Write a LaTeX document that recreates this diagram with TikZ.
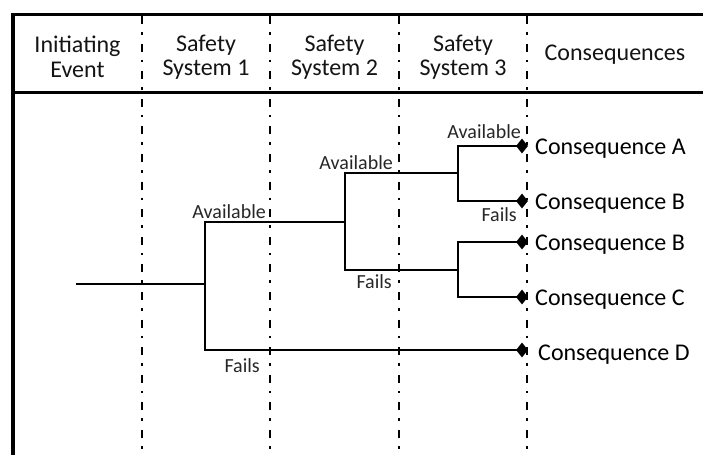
\documentclass[tikz,border=0pt]{standalone}
\usepackage{fontspec}
\setmainfont{Carlito}
\usetikzlibrary{shapes.geometric}
\begin{document}
\begin{tikzpicture}[x=1pt,y=-1pt,
  frame/.style={line width=3.2pt,black},
  divider/.style={line width=2.8pt,black,dash pattern=on 8pt off 8pt on 2.6pt off 9pt},
  branch/.style={line width=2.8pt,black,line cap=rect},
  headtxt/.style={font=\fontsize{24}{24.5}\selectfont,align=center,text=black!92,inner sep=0pt},
  constxt/.style={font=\fontsize{24}{25}\selectfont,anchor=base west,text=black,inner sep=0pt},
  lbl/.style={font=\fontsize{20}{21}\selectfont,anchor=base east,text=black!85,inner sep=0pt},
  endpt/.style={diamond,fill=black,draw=none,minimum width=12pt,minimum height=15pt,inner sep=0pt}
]
\useasboundingbox (0,0) rectangle (703,455);
% frame
\coordinate (tl) at (13,14.5);
\coordinate (tr) at (703,14.5);
\coordinate (bl) at (13,455);
\coordinate (hl) at (13,92);
\coordinate (hr) at (703,92);
\draw[frame] (tl) -- (tr);
\draw[line width=3pt] (hl) -- (hr);
\draw[line width=4.5pt] (13,13) -- (bl);
% dividers
\foreach \x/\n in {142/d1,270/d2,399/d3,527/d4}{
  \coordinate (\n t) at (\x,16);
  \coordinate (\n b) at (\x,455);
  \draw[divider] (\n t) -- (\n b);
}
% header texts
\node[headtxt] (h0) at (77.5,57) {Initiating\\Event};
\node[headtxt] (h1) at (206,57) {Safety\\System 1};
\node[headtxt] (h2) at (334.5,57) {Safety\\System 2};
\node[headtxt] (h3) at (463,57) {Safety\\System 3};
\node[headtxt] (h4) at (615,55) {Consequences};
% tree coordinates
\coordinate (s) at (77,284);
\coordinate (n1) at (205,284);
\coordinate (n1a) at (205,222);
\coordinate (n1f) at (205,350);
\coordinate (n2) at (345,222);
\coordinate (n2a) at (345,173);
\coordinate (n2f) at (345,270);
\coordinate (n3) at (458,173);
\coordinate (n3a) at (458,146);
\coordinate (n3f) at (458,201);
\coordinate (n4) at (458,270);
\coordinate (n4a) at (458,242);
\coordinate (n4f) at (458,297);
\node[endpt] (dA) at (522,146) {};
\node[endpt] (dB1) at (522,201) {};
\node[endpt] (dB2) at (522,242) {};
\node[endpt] (dC) at (522,297) {};
\node[endpt] (dD) at (522,350) {};
% branches
\draw[branch] (s) -- (n1);
\draw[branch] (n1a) -- (n1f);
\draw[branch] (n1a) -- (n2);
\draw[branch] (n2a) -- (n2f);
\draw[branch] (n2a) -- (n3);
\draw[branch] (n3a) -- (n3f);
\draw[branch] (n3a) -- (dA.center);
\draw[branch] (n3f) -- (dB1.center);
\draw[branch] (n2f) -- (n4);
\draw[branch] (n4a) -- (n4f);
\draw[branch] (n4a) -- (dB2.center);
\draw[branch] (n4f) -- (dC.center);
\draw[branch] (n1f) -- (dD.center);
% labels
\node[lbl] (l1a) at (266,218) {Available};
\node[lbl] (l1f) at (260,372) {Fails};
\node[lbl] (l2a) at (393,169) {Available};
\node[lbl] (l2f) at (392,288) {Fails};
\node[lbl] (l3a) at (521,138) {Available};
\node[lbl] (l3f) at (517,221) {Fails};
% consequences
\node[constxt] (cA) at (535,154) {Consequence A};
\node[constxt] (cB1) at (535,209) {Consequence B};
\node[constxt] (cB2) at (535,250) {Consequence B};
\node[constxt] (cC) at (535,305) {Consequence C};
\node[constxt] (cD) at (538,360) {Consequence D};
\end{tikzpicture}
\end{document}
